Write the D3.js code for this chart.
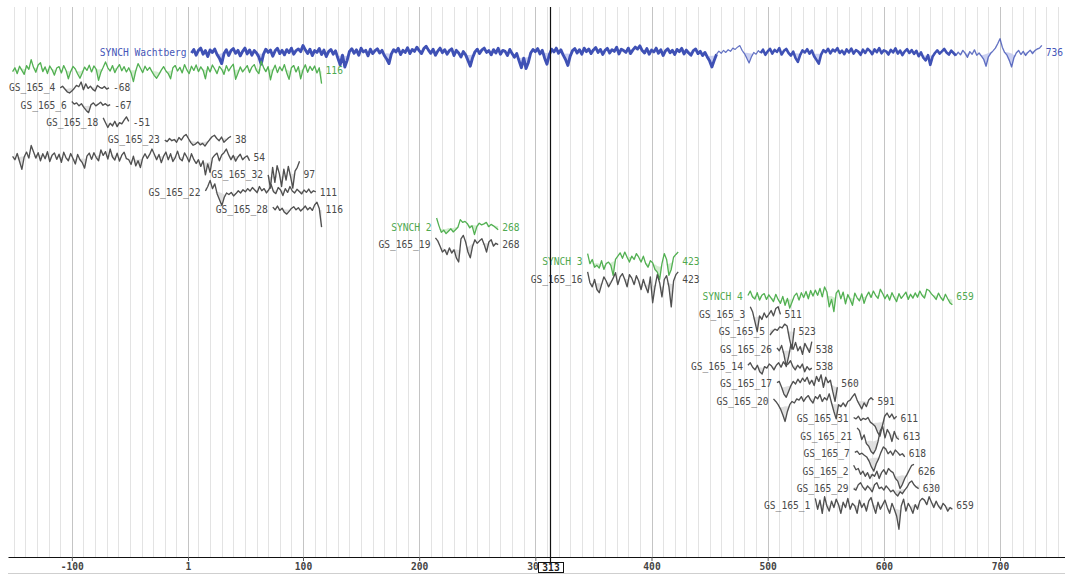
<!DOCTYPE html>
<html>
<head>
<meta charset="utf-8">
<script src="https://cdn.jsdelivr.net/npm/d3@7"></script>
<style>
  body { margin: 0; background: #fff; }
  svg { display: block; }
</style>
</head>
<body>
<svg id="chart" width="1065" height="575"></svg>
<script>
// ---- Series metadata (one entry per row, top to bottom) ----
const seriesNames = [
  "SYNCH Wachtberg", "", "GS_165_4", "GS_165_6", "GS_165_18", "GS_165_23", "",
  "GS_165_32", "GS_165_22", "GS_165_28", "SYNCH 2", "GS_165_19", "SYNCH 3", "GS_165_16",
  "SYNCH 4", "GS_165_3", "GS_165_5", "GS_165_26", "GS_165_14", "GS_165_17", "GS_165_20",
  "GS_165_31", "GS_165_21", "GS_165_7", "GS_165_2", "GS_165_29", "GS_165_1"
];
const seriesKinds = [
  "master", "synch", "sample", "sample", "sample", "sample", "sample",
  "sample", "sample", "sample", "synch", "sample", "synch", "sample",
  "synch", "sample", "sample", "sample", "sample", "sample", "sample",
  "sample", "sample", "sample", "sample", "sample", "sample"
];
const startYears = [
  4, -151, -110, -100, -73, -20, -151,
  70, 16, 74, 215, 214, 345, 345,
  483, 485, 502, 508, 483, 508, 505,
  574, 577, 575, 574, 574, 541
];
const endYears = [
  736, 116, -68, -67, -51, 38, 54,
  97, 111, 116, 268, 268, 423, 423,
  659, 511, 523, 538, 538, 560, 591,
  611, 613, 618, 626, 630, 659
];

// Sample depth of the master chronology by period (start year of each period)
const masterDepthStarts = [4, 455, 493, 661];
const masterDepth = [14, 3, 12, 4];

// Ring-width indices (100 = mean), evenly spaced from first to last year
const vWachtberg = [
  100,128,86,120,140,92,118,78,124,104, 132,90,70,48,96,126,84,118,136,98,
  120,82,112,140,94,124,86,118,100,76, 46,92,130,104,122,80,116,138,96,120,
  88,126,102,140,92,118,132,110,168,124, 96,130,84,118,104,136,90,122,78,110,
  128,92,116,70,44,86,38,60,112,134, 98,124,86,140,108,120,82,130,96,118,
  134,100,120,84,66,48,92,126,108,138, 90,120,104,144,96,128,112,150,118,96,
  136,160,122,98,130,86,114,140,102,126, 92,118,134,84,120,100,76,110,88,60,
  40,72,108,130,96,124,140,104,118,88, 126,100,138,92,120,112,84,128,96,74,
  96,58,36,70,34,52,100,128,110,136, 94,120,70,46,88,130,108,140,98,124,
  86,64,42,80,118,136,100,126,92,140, 110,132,96,124,146,104,128,90,120,138,
  100,126,112,148,94,130,118,104,140,96, 124,150,132,164,118,100,136,92,122,108,
  140,98,126,84,116,134,102,120,90,128, 110,138,94,122,100,86,118,132,96,112,
  84,104,76,58,38,60,92,114,98,120, 104,126,112,140,128,150,168,120,96,70,
  50,76,104,92,118,100,126,88,112,134, 96,124,108,140,90,116,132,100,84,110,
  70,54,88,120,104,130,96,118,80,62, 48,90,122,106,134,98,126,112,140,100,
  118,92,128,104,136,96,122,110,88,126, 100,134,116,92,128,106,140,98,120,112,
  90,124,104,138,96,118,86,112,130,100, 122,94,116,80,104,72,60,86,44,78,
  100,120,96,112,132,104,90,118,100,84, 106,88,120,98,74,110,92,124,86,100,
  80,64,40,76,98,116,140,190,270,150, 104,86,60,38,72,100,120,90,112,84,
  104,122,96,118,132,140,170
];
const vSynch1 = [
  92,120,80,134,100,76,140,108,210,124, 88,146,170,92,128,80,136,104,72,118,
  130,84,140,100,56,92,132,110,78,58, 84,126,100,144,90,136,108,50,88,124,
  180,120,96,140,86,118,150,98,130,90, 120,84,46,96,160,118,86,134,100,124,
  92,70,58,76,102,130,96,80,56,120, 140,96,124,84,150,104,80,134,100,146,
  92,128,100,56,130,90,146,110,80,132, 108,76,140,96,126,154,54,82,128,90,
  112,140,86,126,150,98,80,190,124,92, 130,52,100,144,86,128,98,150,84,54,
  120,140,90,130,56,104,148,88,132,100, 136,84,120,40
];
const vGS4 = [100,112,92,76,70,80,96,118,108,150,88,132,96,112,90,80,118,104,96,110,92,100];
const vGS6 = [130,108,118,96,112,86,70,60,104,118,96,108,124,100,112,96,104];
const vGS18 = [140,100,72,96,80,110,76,100,92,120,150,110];
const vGS23 = [100,90,112,96,104,86,120,100,130,148,112,84,70,76,88,72,80,66,84,104,126,140,112,96,124,86,100,118,130];
const vRow54 = [
  108,86,132,76,44,104,146,96,230,150, 96,140,80,130,92,150,76,118,138,88,
  126,72,144,98,80,132,94,64,124,86, 70,48,110,136,88,140,100,80,170,116,
  150,90,180,104,84,136,78,118,144,92, 86,62,110,56,80,50,96,130,94,124,
  180,126,86,124,70,110,146,86,130,76, 100,156,92,80,138,104,74,130,88,66,
  86,54,80,30,64,36,96,118,136,80, 120,140,180,120,86,116,78,104,126,86,
  102,112,80
];
const vGS32 = [100,40,170,60,190,110,45,150,70,180,90,40,130,170,260];
const vGS22 = [
  110,150,230,130,180,90,60,40,70,96, 86,100,78,92,112,96,120,104,130,110,
  140,118,98,150,112,130,96,120,170,104, 92,140,118,80,130,100,150,110,96,124,
  106,90,118,100,126,96,112,104
];
const vGS28 = [120,100,130,96,112,84,74,90,110,124,100,116,92,108,130,100,118,96,140,170,110,30];
const vSynch2 = [190,110,70,82,64,76,90,72,84,100,170,140,150,128,96,110,60,104,132,118,126,140,104,122,110,96,84];
const vGS19 = [160,130,90,60,70,50,80,56,70,40,30,150,190,120,60,40,90,140,110,130,150,100,60,120,140,90,110,100];
const vSynch3 = [
  180,90,120,70,80,66,110,60,90,100, 80,40,120,150,190,130,200,140,100,150,
  120,180,140,100,150,90,70,110,96,60, 50,30,90,180,120,40,60,140,170,200
];
const vGS16 = [
  170,80,60,100,50,40,70,120,90,60, 80,110,160,70,120,150,100,60,140,110,
  70,130,90,50,100,60,40,120,20,60, 140,80,30,100,130,60,15,90,140,170
];
const vSynch4 = [
  110,150,100,86,134,80,112,126,84,116, 92,72,120,84,64,104,56,90,46,70,
  108,130,80,134,96,146,88,156,106,160, 112,180,100,200,140,50,84,36,130,160,
  88,140,62,118,84,56,130,94,76,124, 64,104,140,96,150,110,90,170,126,88,
  118,80,134,96,72,126,90,112,140,84, 120,92,132,98,150,110,92,170,156,124,
  104,84,130,96,78,120,88,66,58
];
const vGS3 = [170,120,60,30,90,70,110,80,100,130,90,150,170,100];
const vGS5 = [80,100,120,110,140,130,170,150,60,30,130];
const vGS26 = [110,90,130,70,30,60,140,100,160,90,120,70,150,110,80,170];
const vGS14 = [110,130,96,80,110,70,60,100,90,120,104,80,110,130,96,140,110,120,150,100,80,110,90,120,70,100,80,90];
const vGS17 = [110,120,80,50,40,60,90,120,100,140,110,150,120,160,100,130,90,170,120,190,80,160,110,130,60,30,80];
const vGS20 = [
  120,100,80,60,40,25,50,80,100,90, 120,110,140,100,130,150,110,90,140,120,
  160,100,130,110,170,90,50,30,80,70, 90,70,100,110,140,170,110,80,60,90,
  70,110,130,110
];
const vGS31 = [110,100,120,90,104,96,110,80,70,60,40,30,60,120,150,110,140,100,120];
const vGS21 = [180,150,80,110,60,50,35,30,40,70,150,200,90,160,120,70,140,90,80];
const vGS7 = [110,120,96,104,90,80,60,40,30,50,70,110,160,140,100,120,90,130,110,90,100,80];
const vGS2 = [150,110,120,80,100,70,90,60,80,70,100,60,90,110,80,120,100,90,60,50,30,40,60,80,110,150,160];
const vGS29 = [100,90,130,150,110,90,120,100,80,130,150,100,110,90,120,100,80,90,70,60,80,70,90,110,150,170,130,110,100];
const vGS1 = [
  170,80,150,60,190,100,70,140,90,160, 110,60,130,90,170,80,120,100,60,150,
  90,120,70,140,180,100,60,130,80,110, 150,90,60,120,80,50,20,100,160,70,
  120,90,60,110,80,140,170,150,110,190, 130,90,140,100,80,120,100,70,90,80
];

const seriesValues = [
  vWachtberg, vSynch1, vGS4, vGS6, vGS18, vGS23, vRow54,
  vGS32, vGS22, vGS28, vSynch2, vGS19, vSynch3, vGS16,
  vSynch4, vGS3, vGS5, vGS26, vGS14, vGS17, vGS20,
  vGS31, vGS21, vGS7, vGS2, vGS29, vGS1
];

// Axis tick labels (calendar years, no year zero)
const tickYears = [-100, 1, 100, 200, 300, 400, 500, 600, 700];
const selectedYear = 313;

// ---- Layout ----
const W = 1065, H = 575;
const plotLeft = 10, plotTop = 7, axisY = 557;

const astro = y => (y < 0 ? y + 1 : y);          // calendar -> continuous year
const x = d3.scaleLinear().domain([1, 700]).range([188, 1000]);
const row = d3.scalePoint().domain(d3.range(seriesNames.length)).range([53, 506]);
const yOff = d3.scaleLog().domain([100, 200]).range([0, -10]); // log ring-width index
const depthWidth = d3.scaleLinear().domain([3, 14]).range([1.2, 2.9]).clamp(true);

const colors = {
  master: { line: "#3f51b5", fill: "#c3c9ee", text: "#4656b8" },
  synch:  { line: "#52b052", fill: "#cdeac9", text: "#4fa94f" },
  sample: { line: "#505050", fill: "#dadada", text: "#4a4a4a" }
};

const svg = d3.select("#chart");
svg.append("rect").attr("width", W).attr("height", H).attr("fill", "#fff");

// ---- Vertical grid: every decade, darker at centuries ----
const xMinYear = x.invert(plotLeft), xMaxYear = x.invert(W);
const minorYears = d3.range(-190, 0, 10).concat(d3.range(10, 800, 10)).map(astro)
  .filter(a => a >= xMinYear && a <= xMaxYear);
const majorYears = tickYears.map(astro);
const grid = svg.append("g");
grid.selectAll("line.minor").data(minorYears.filter(a => !majorYears.includes(a)))
  .join("line").attr("class", "minor")
  .attr("x1", d => Math.round(x(d)) + 0.5).attr("x2", d => Math.round(x(d)) + 0.5)
  .attr("y1", plotTop).attr("y2", axisY)
  .attr("stroke", "#e3e3e3").attr("stroke-width", 1);
grid.selectAll("line.major").data(majorYears)
  .join("line").attr("class", "major")
  .attr("x1", d => Math.round(x(d)) + 0.5).attr("x2", d => Math.round(x(d)) + 0.5)
  .attr("y1", plotTop).attr("y2", axisY)
  .attr("stroke", "#c4c4c4").attr("stroke-width", 1);

// ---- Series ----
svg.append("clipPath").attr("id", "plotClip")
  .append("rect").attr("x", plotLeft).attr("y", 0).attr("width", W - plotLeft).attr("height", axisY);

const plot = svg.append("g").attr("clip-path", "url(#plotClip)");
const labels = svg.append("g")
  .attr("font-family", "'DejaVu Sans Mono', monospace")
  .attr("font-size", "9.6px");

const line = d3.line().x(d => d.x).y(d => d.y);
const area = d3.area().x(d => d.x).y0(d => d.s).y1(d => Math.max(d.y, d.s));

seriesValues.forEach((vals, k) => {
  const kind = seriesKinds[k];
  const c = colors[kind];
  const a0 = astro(startYears[k]), a1 = astro(endYears[k]);
  const n = vals.length;
  const cy = row(k);
  const pts = vals.map((v, i) => {
    const yr = a0 + (a1 - a0) * i / (n - 1);
    return { yr, x: x(yr), y: cy + yOff(v) };
  });
  // running mean of the curve, used to shade the depressions below it
  const w = 5;
  pts.forEach((p, i) => {
    const seg = pts.slice(Math.max(0, i - w), Math.min(n, i + w + 1));
    p.s = d3.mean(seg, q => q.y);
  });

  plot.append("path").datum(pts).attr("d", area)
    .attr("fill", c.fill).attr("fill-opacity", 0.85);

  if (kind === "master") {
    // stroke width follows the sample depth of the chronology
    const depthAt = yr => {
      let d = masterDepth[0];
      masterDepthStarts.forEach((s, j) => { if (yr >= astro(s)) d = masterDepth[j]; });
      return d;
    };
    let runs = [], cur = null;
    pts.forEach(p => {
      const d = depthAt(p.yr);
      if (!cur || cur.d !== d) {
        if (cur) cur.pts.push(p);
        cur = { d, pts: cur ? [cur.pts[cur.pts.length - 1]] : [] };
        runs.push(cur);
      }
      cur.pts.push(p);
    });
    runs.forEach(r => {
      plot.append("path").datum(r.pts).attr("d", line)
        .attr("fill", "none").attr("stroke", c.line)
        .attr("stroke-opacity", r.d > 6 ? 1 : 0.8)
        .attr("stroke-width", depthWidth(r.d)).attr("stroke-linejoin", "round");
    });
  } else {
    plot.append("path").datum(pts).attr("d", line)
      .attr("fill", "none").attr("stroke", c.line)
      .attr("stroke-width", kind === "synch" ? 1.3 : 1.35)
      .attr("stroke-linejoin", "round");
  }

  const xs = pts[0].x, xe = pts[n - 1].x;
  if (seriesNames[k] && xs > plotLeft + 40) {
    labels.append("text").attr("x", xs - 5).attr("y", cy).attr("dy", "0.35em")
      .attr("text-anchor", "end").attr("fill", c.text).text(seriesNames[k]);
  }
  labels.append("text").attr("x", xe + 4).attr("y", cy).attr("dy", "0.35em")
    .attr("fill", c.text).text(endYears[k]);
});

// ---- Bottom axis ----
const axisScale = x.copy().domain([x.invert(8), x.invert(W)]).range([8, W]);
const axis = d3.axisBottom(axisScale)
  .tickValues(tickYears.map(astro))
  .tickFormat((d, i) => tickYears[i])
  .tickSizeInner(4).tickSizeOuter(0).tickPadding(2);
const gAxis = svg.append("g").attr("transform", `translate(0,${axisY})`).call(axis);
gAxis.select(".domain").attr("stroke", "#111");
gAxis.selectAll(".tick line").attr("stroke", "#555");
gAxis.selectAll(".tick text")
  .attr("font-family", "'DejaVu Sans Mono', monospace").attr("font-size", "9.6px")
  .attr("font-weight", "bold").attr("fill", "#444");

svg.append("line").attr("x1", 8).attr("x2", W).attr("y1", 573.5).attr("y2", 573.5)
  .attr("stroke", "#cfcfcf");

// ---- Selected-year cursor ----
const sx = Math.round(x(selectedYear)) + 0.5;
svg.append("line").attr("x1", sx).attr("x2", sx).attr("y1", plotTop).attr("y2", 563)
  .attr("stroke", "#111").attr("stroke-width", 1.2);
svg.append("rect").attr("x", sx - 12).attr("y", 562.5).attr("width", 25).attr("height", 10)
  .attr("fill", "#fff").attr("stroke", "#111").attr("stroke-width", 1);
svg.append("text").attr("x", sx + 0.5).attr("y", 567.5).attr("dy", "0.35em")
  .attr("text-anchor", "middle")
  .attr("font-family", "'DejaVu Sans Mono', monospace").attr("font-size", "9.6px")
  .attr("font-weight", "bold").attr("fill", "#222").text(selectedYear);
</script>
</body>
</html>
